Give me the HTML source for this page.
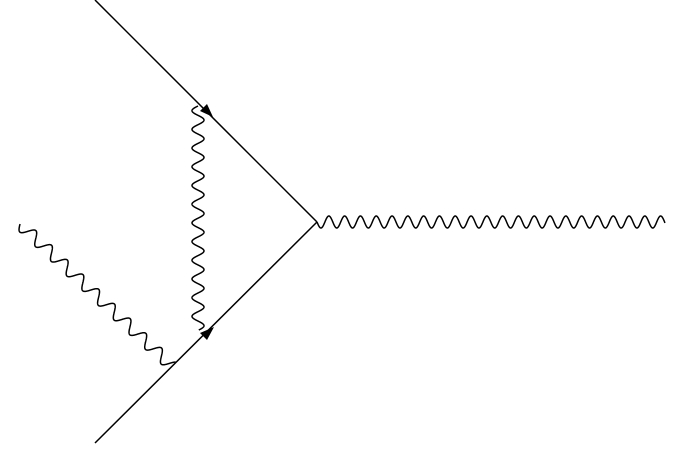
<!DOCTYPE html>
<html><head><style>html,body{margin:0;padding:0;background:#fff}</style></head>
<body>
<svg id="s" width="685" height="464" viewBox="0 0 685 464" xmlns="http://www.w3.org/2000/svg">
<g stroke="#000" stroke-width="1.5" fill="none">
<line x1="95" y1="0" x2="317" y2="222"/>
<line x1="95" y1="443" x2="317" y2="222"/>
<path id="w1"/><path id="w2"/><path id="w3"/>
</g>
<polygon points="213,117 200,111 207,104" fill="#000"/>
<polygon points="214,327 207,340 200,333" fill="#000"/>
</svg>
<script>
function wave(x1,y1,x2,y2,period,amp){
 var dx=x2-x1,dy=y2-y1,L=Math.hypot(dx,dy),ux=dx/L,uy=dy/L,nx=-uy,ny=ux;
 var n=Math.round(L*6),d="";
 for(var i=0;i<=n;i++){var t=i/n*L,o=amp*Math.sin(2*Math.PI*t/period);
  var x=x1+ux*t+nx*o,y=y1+uy*t+ny*o;d+=(i?"L":"M")+x.toFixed(2)+","+y.toFixed(2);}
 return d;}
document.getElementById("w1").setAttribute("d",wave(198,106,198,330,18.7,6));
document.getElementById("w2").setAttribute("d",wave(317,222,665,222,15.8,6));
document.getElementById("w3").setAttribute("d",wave(20,224,172,366,21.5,6));
</script>
</body></html>
